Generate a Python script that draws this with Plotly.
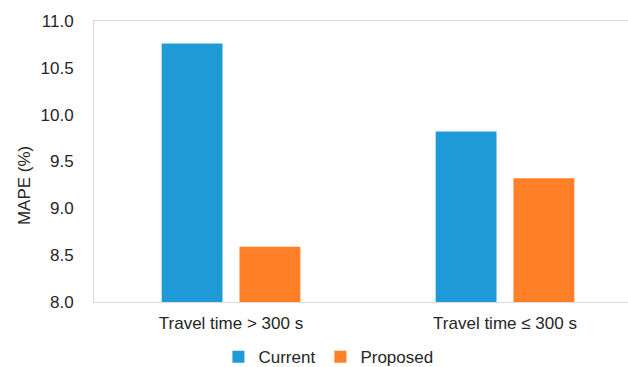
import plotly.graph_objects as go

# Data
categories = ["Travel time > 300 s", "Travel time ≤ 300 s"]
current = [10.76, 9.82]
proposed = [8.59, 9.32]
series_names = ["Current", "Proposed"]
y_ticks = [8.0, 8.5, 9.0, 9.5, 10.0, 10.5, 11.0]

BLUE = "#1E9BD7"
ORANGE = "#FF7F27"
FONT = "Arial, 'Liberation Sans', sans-serif"
TEXT = "#262626"
LINE = "#D9D9D9"
FS = 17

x_pos = list(range(len(categories)))

fig = go.Figure()
fig.add_trace(go.Bar(x=x_pos, y=current, name=series_names[0],
                     marker=dict(color=BLUE, line=dict(width=0))))
fig.add_trace(go.Bar(x=x_pos, y=proposed, name=series_names[1],
                     marker=dict(color=ORANGE, line=dict(width=0))))

fig.update_layout(
    width=628, height=367,
    margin=dict(l=94, r=0, t=21, b=65, autoexpand=False),
    paper_bgcolor="white", plot_bgcolor="white",
    barmode="group", bargap=0.432, bargroupgap=0.218,
    font=dict(family=FONT, size=FS, color=TEXT),
    showlegend=True,
    legend=dict(orientation="h", x=0.439, xanchor="center",
                y=-0.196, yanchor="middle",
                font=dict(size=FS, color=TEXT),
                itemwidth=30, traceorder="normal"),
)

fig.update_xaxes(
    tickmode="array", tickvals=x_pos, ticktext=categories,
    range=[-0.5, 1.449],
    showgrid=False, zeroline=False,
    showline=True, linecolor=LINE, linewidth=1, mirror=True,
    ticks="", ticklabelstandoff=6, tickfont=dict(size=FS, color=TEXT),
)
fig.update_yaxes(
    range=[8.0, 11.0], tickvals=y_ticks, tickformat=".1f",
    showgrid=False, zeroline=False,
    showline=True, linecolor=LINE, linewidth=1,
    ticks="", ticklabelstandoff=16, tickfont=dict(size=FS, color=TEXT),
)

fig.add_annotation(
    text="MAPE (%)", textangle=-90,
    xref="paper", yref="paper", x=-0.129, y=0.413,
    xanchor="center", yanchor="middle", showarrow=False,
    font=dict(size=FS, color=TEXT),
)

fig.write_html("out.html")
